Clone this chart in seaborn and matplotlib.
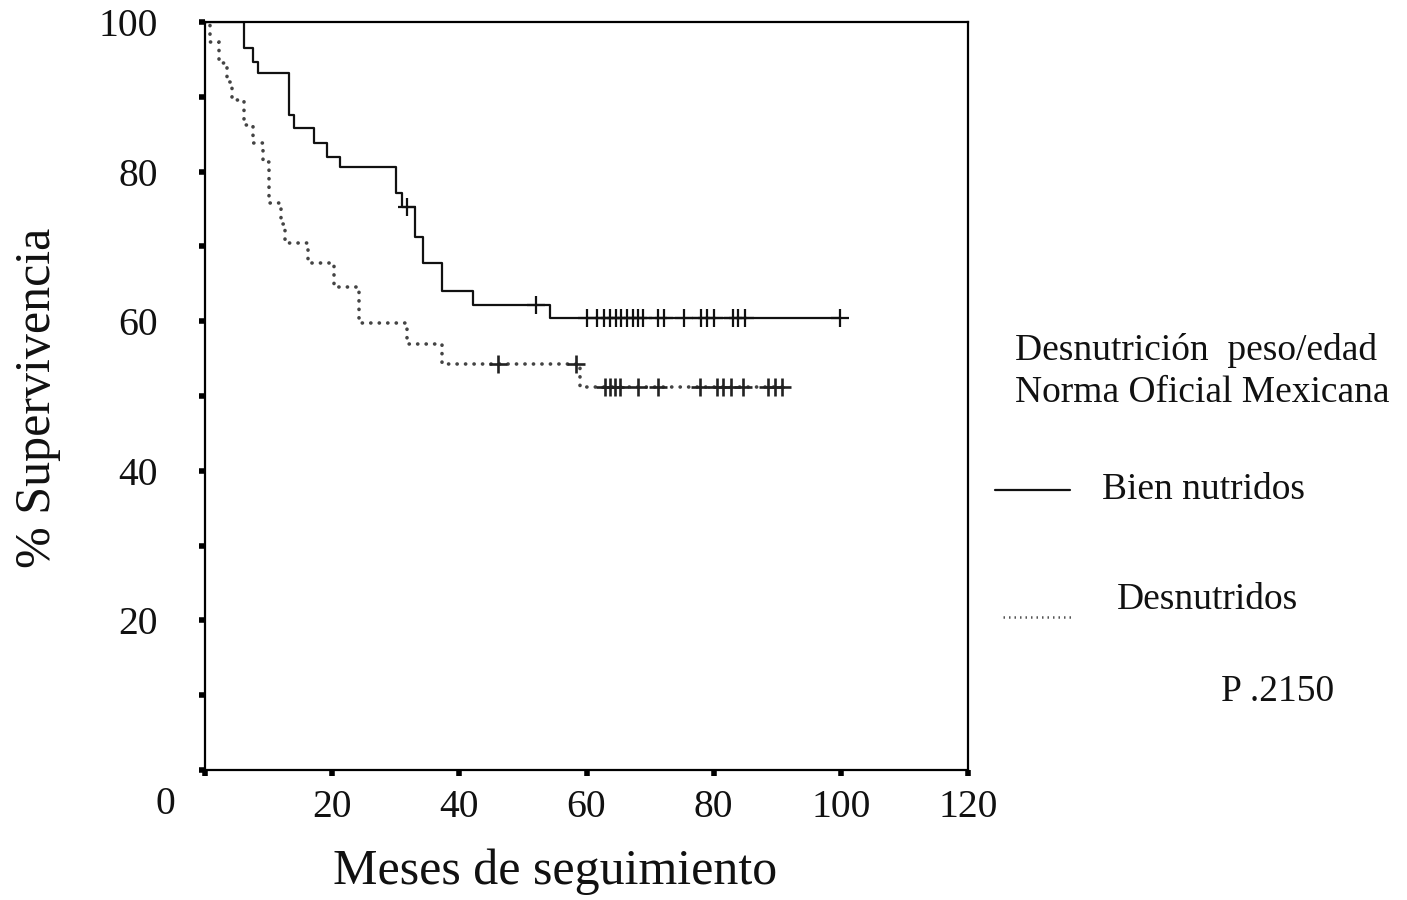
import matplotlib
matplotlib.use("Agg")
import matplotlib.pyplot as plt
import seaborn as sns
import pandas as pd
from matplotlib.lines import Line2D

# ---- data ----
bien_t = [0, 6.1, 7.5, 8.3, 13.2, 14.0, 17.1, 19.2, 21.2, 30.0, 31.0, 33.0, 34.3, 37.3, 42.2, 54.3, 100]
bien_s = [100, 96.5, 94.7, 93.2, 87.6, 85.8, 83.8, 82.0, 80.6, 77.1, 75.3, 71.3, 67.8, 64.0, 62.2, 60.4, 60.4]
bien_cens_t = [31.8, 52.0, 60.0, 61.7, 62.8, 63.7, 64.6, 65.5, 66.3, 67.3, 68.1, 68.9, 71.3, 72.2,
               75.4, 78.0, 78.9, 80.0, 83.0, 83.9, 84.9, 99.8]
bien_cens_s = [75.3, 62.2] + [60.4] * 20

desn_t = [0, 0.8, 2.2, 3.5, 4.3, 6.1, 7.6, 9.1, 10.1, 12.0, 12.6, 16.2, 20.3, 24.2, 31.8, 37.3, 59.0, 91.8]
desn_s = [100, 97.3, 94.5, 92.0, 89.6, 86.2, 83.8, 81.3, 75.8, 73.0, 70.4, 67.8, 64.6, 59.8, 57.0, 54.3, 51.2, 51.2]
desn_cens_t = [46.1, 58.3, 62.9, 63.7, 64.5, 65.3, 68.1, 71.3, 77.9, 80.5, 81.5, 82.8, 84.6, 88.6, 89.6, 90.7]
desn_cens_s = [54.3, 54.3] + [51.2] * 14

x_ticks = [0, 20, 40, 60, 80, 100, 120]
x_labels = ["", "20", "40", "60", "80", "100", "120"]
y_ticks = [0, 10, 20, 30, 40, 50, 60, 70, 80, 90, 100]
y_labels = ["", "", "20", "", "40", "", "60", "", "80", "", "100"]

title1 = "Desnutrición  peso/edad"
title2 = "Norma Oficial Mexicana"
lab_bien = "Bien nutridos"
lab_desn = "Desnutridos"
p_text = "P .2150"

# ---- style ----
sns.set_style("white")
plt.rcParams["font.family"] = ["Liberation Serif", "DejaVu Serif"]

fig = plt.figure(figsize=(14.07, 9.0), dpi=100)
ax = fig.add_axes([205 / 1407, 1 - 770 / 900, (968 - 205) / 1407, (770 - 22) / 900])

df_b = pd.DataFrame({"t": bien_t, "s": bien_s})
df_d = pd.DataFrame({"t": desn_t, "s": desn_s})

sns.lineplot(data=df_b, x="t", y="s", ax=ax, estimator=None, sort=False,
             drawstyle="steps-post", color="#111111", linewidth=1.6)
sns.lineplot(data=df_d, x="t", y="s", ax=ax, estimator=None, sort=False,
             drawstyle="steps-post", color="#444444", linewidth=2.6,
             linestyle=(0, (0.05, 2.3)), dash_capstyle="round")

ax.plot(bien_cens_t, bien_cens_s, linestyle="none", marker="+", markersize=13,
        markeredgewidth=1.6, color="#111111")
ax.plot(desn_cens_t, desn_cens_s, linestyle="none", marker="+", markersize=13,
        markeredgewidth=1.9, color="#222222")

ax.set_xlim(0, 120)
ax.set_ylim(0, 100)
ax.set_xticks(x_ticks)
ax.set_xticklabels(x_labels)
ax.set_yticks(y_ticks)
ax.set_yticklabels(y_labels)
ax.tick_params(axis="both", direction="out", length=4, width=4, color="black",
               labelsize=28.5, labelcolor="#111111", bottom=True, left=True)
ax.tick_params(axis="y", pad=30)
ax.tick_params(axis="x", pad=10)
for sp in ax.spines.values():
    sp.set_visible(True)
    sp.set_color("black")
    sp.set_linewidth(1.6)

ax.set_xlabel("Meses de seguimiento", fontsize=36, color="#111111")
ax.xaxis.set_label_coords((555 - 205) / (968 - 205), -(872 - 770) / (770 - 22))
ax.xaxis.label.set_va("center")
ax.set_ylabel("% Supervivencia", fontsize=36, color="#111111")
ax.yaxis.set_label_coords(-(205 - 38) / (968 - 205), (770 - 398) / (770 - 22))
ax.yaxis.label.set_va("center")

# origin label
fig.text(165 / 1407, 1 - 805 / 900, "0", fontsize=28.5, ha="center", va="center", color="#111111")

# legend-like annotation
fs = 27
fig.text(1015 / 1407, 1 - 350 / 900, title1, fontsize=fs, ha="left", va="center", color="#111111")
fig.text(1015 / 1407, 1 - 393 / 900, title2, fontsize=fs, ha="left", va="center", color="#111111")
fig.add_artist(Line2D([995 / 1407, 1070 / 1407], [1 - 490 / 900, 1 - 490 / 900],
                      color="#111111", linewidth=1.6, transform=fig.transFigure))
fig.text(1204 / 1407, 1 - 490 / 900, lab_bien, fontsize=fs, ha="center", va="center", color="#111111")
fig.add_artist(Line2D([1003 / 1407, 1072 / 1407], [1 - 617 / 900, 1 - 617 / 900],
                      color="#555555", linewidth=1.8, linestyle=(0, (0.6, 1.6)),
                      transform=fig.transFigure))
fig.text(1207 / 1407, 1 - 600 / 900, lab_desn, fontsize=fs, ha="center", va="center", color="#111111")
fig.text(1278 / 1407, 1 - 692 / 900, p_text, fontsize=fs, ha="center", va="center", color="#111111")

fig.savefig("out.png", dpi=100)
